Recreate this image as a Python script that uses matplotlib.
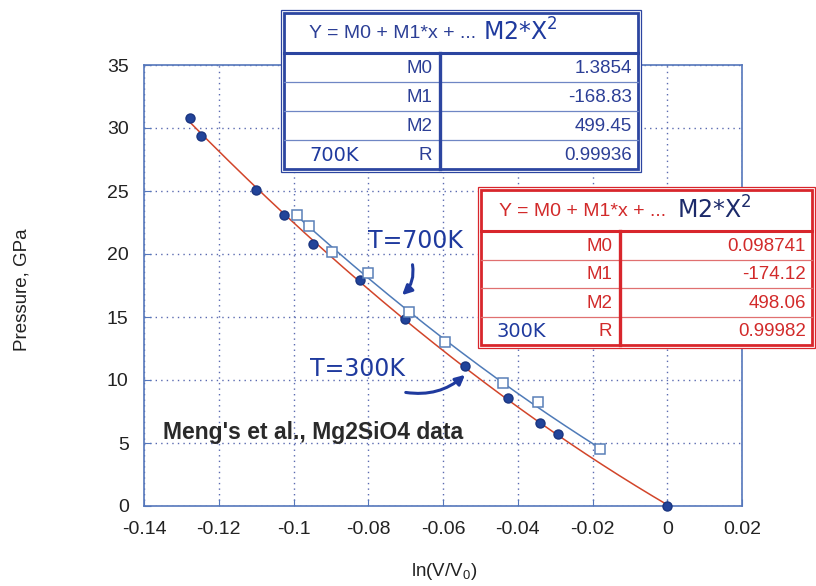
import numpy as np
import matplotlib
matplotlib.use("Agg")
import matplotlib.pyplot as plt
from matplotlib.patches import Rectangle

plt.rcParams['font.family'] = ['Liberation Sans', 'DejaVu Sans']

# ---------------- data ----------------
x_300 = [-0.1278, -0.1248, -0.1100, -0.1025, -0.0947, -0.0823, -0.0701,
         -0.0541, -0.0425, -0.0341, -0.0292, 0.0]
p_300 = [30.78, 29.40, 25.11, 23.12, 20.80, 17.90, 14.81,
         11.10, 8.59, 6.61, 5.69, 0.0]

x_700 = [-0.0991, -0.0958, -0.0897, -0.0802, -0.0692, -0.0594, -0.0440,
         -0.0347, -0.0180]
p_700 = [23.12, 22.22, 20.18, 18.50, 15.41, 12.98, 9.75, 8.22, 4.54]

# fit coefficients shown in the tables
fit_labels = ["M0", "M1", "M2", "R"]
fit_700 = ["1.3854", "-168.83", "499.45", "0.99936"]
fit_300 = ["0.098741", "-174.12", "498.06", "0.99982"]
coef_700 = [1.3854, -168.83, 499.45]
coef_300 = [0.098741, -174.12, 498.06]

x_ticks = [-0.14, -0.12, -0.1, -0.08, -0.06, -0.04, -0.02, 0, 0.02]
x_ticklabels = ["-0.14", "-0.12", "-0.1", "-0.08", "-0.06", "-0.04", "-0.02", "0", "0.02"]
y_ticks = [0, 5, 10, 15, 20, 25, 30, 35]

header = "Y = M0 + M1*x + ..."
hand_header = "M2*X$^2$"

# ---------------- figure ----------------
W, H = 816, 586
fig = plt.figure(figsize=(W / 100, H / 100), dpi=100)
ax = fig.add_axes([144 / W, (H - 506) / H, (742 - 144) / W, (506 - 65) / H])

spine_c = '#5577bb'
grid_c = '#5a6ab0'
ax.set_xlim(-0.14, 0.02)
ax.set_ylim(0, 35)
ax.set_xticks(x_ticks)
ax.set_xticklabels(x_ticklabels)
ax.set_yticks(y_ticks)
ax.grid(True, linestyle=(0, (1, 3)), color=grid_c, lw=1.0)
for s in ax.spines.values():
    s.set_color(spine_c)
    s.set_linewidth(1.2)
ax.tick_params(direction='in', length=5, color=spine_c, labelsize=14,
               labelcolor='#222222', pad=11)

# fit curves
xf300 = np.linspace(min(x_300), max(x_300), 200)
ax.plot(xf300, np.polyval(coef_300[::-1], xf300), color='#d2452a', lw=1.1, zorder=3)
xf700 = np.linspace(min(x_700), max(x_700), 200)
ax.plot(xf700, np.polyval(coef_700[::-1], xf700), color='#4f7bb8', lw=1.1, zorder=3)

ax.plot(x_300, p_300, 'o', ms=6.5, color='#22449a', mec='#1a3580', zorder=4, clip_on=False)
ax.plot(x_700, p_700, 's', ms=6.5, mfc='white', mec='#5a80b8', mew=1.1, zorder=4)

ax.text(163, 433, "Meng's et al., Mg2SiO4 data", transform=None, fontsize=1)  # placeholder removed below
ax.texts[-1].remove()

# axis labels
fig.text(22 / W, 1 - 290 / H, "Pressure, GPa", rotation=90, ha='center', va='center',
         fontsize=13.5, color='#222222')
fig.text(444 / W, 1 - 572 / H, r"ln(V/V$_\mathregular{0}$)", ha='center', va='center',
         fontsize=13.5, color='#222222')

# ---------------- overlay in pixel coordinates ----------------
ov = fig.add_axes([0, 0, 1, 1], zorder=5)
ov.set_xlim(0, W)
ov.set_ylim(H, 0)
ov.axis('off')
ov.patch.set_alpha(0)

ov.text(163, 433, "Meng's et al., Mg2SiO4 data", fontsize=16.5, fontweight='bold',
        color='#2a2a2a', ha='left', va='center')

hand_c = '#1f3a9e'


def draw_table(left, top, right, bottom, head_b, col_x, color, thin_c, txt_c,
               head_x, hand_x, hand_c2, values, tag, tag_x):
    ov.add_patch(Rectangle((left, top), right - left, bottom - top, facecolor='white',
                           edgecolor=color, lw=0.9))
    il, it, ir, ib = left + 3, top + 3, right - 3, bottom - 3
    ov.add_patch(Rectangle((il, it), ir - il, ib - it, facecolor='white',
                           edgecolor=color, lw=2.0))
    ov.plot([il, ir], [head_b, head_b], color=color, lw=2.2)
    rh = (ib - head_b) / 4
    for i in range(1, 4):
        yy = head_b + i * rh
        ov.plot([il, ir], [yy, yy], color=thin_c, lw=0.9)
    ov.plot([col_x, col_x], [head_b, ib], color=color, lw=2.4)
    hy = (it + head_b) / 2 + 1
    ov.text(head_x, hy, header, fontsize=14, color=txt_c, ha='left', va='center')
    ov.text(hand_x, hy - 2, hand_header, fontsize=17, color=hand_c2, ha='left',
            va='center', family='DejaVu Sans')
    for i, (lab, val) in enumerate(zip(fit_labels, values)):
        yy = head_b + (i + 0.5) * rh + 1
        ov.text(col_x - 8, yy, lab, fontsize=13.5, color=txt_c, ha='right', va='center')
        ov.text(ir - 6, yy, val, fontsize=13.5, color=txt_c, ha='right', va='center')
    ov.text(tag_x, head_b + 3.5 * rh + 1, tag, fontsize=14, color=hand_c, ha='left',
            va='center', family='DejaVu Sans')


draw_table(281, 10, 641, 172, 53, 440, '#2c45a0', '#6f86c4', '#2c3f96',
           309, 483, hand_c, fit_700, "700K", 309)
draw_table(478, 187, 815, 348, 231, 620, '#d8262c', '#e07070', '#d22a2a',
           499, 677, '#1c2a6a', fit_300, "300K", 497)

# handwritten annotations
ov.text(415, 241, "T=700K", fontsize=17, color=hand_c, ha='center', va='center',
        family='DejaVu Sans')
ov.text(358, 369, "T=300K", fontsize=17, color=hand_c, ha='center', va='center',
        family='DejaVu Sans')
ov.annotate("", xy=(400, 297), xytext=(412, 262),
            arrowprops=dict(arrowstyle='-|>', color=hand_c, lw=2.2,
                            connectionstyle='arc3,rad=-0.3', mutation_scale=14))
ov.annotate("", xy=(467, 373), xytext=(403, 392),
            arrowprops=dict(arrowstyle='-|>', color=hand_c, lw=2.2,
                            connectionstyle='arc3,rad=0.25', mutation_scale=14))

fig.savefig("out.png", dpi=100, facecolor='white')
